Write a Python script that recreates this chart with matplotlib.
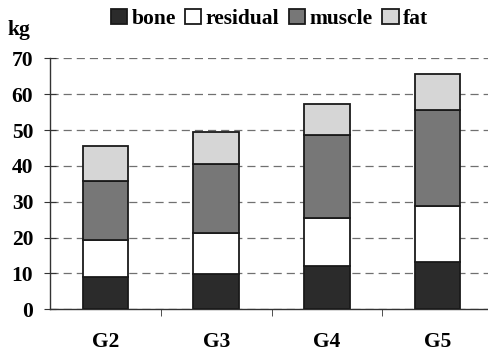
import numpy as np
import matplotlib
matplotlib.use("Agg")
import matplotlib.pyplot as plt

# Body composition per group (kg)
groups = ["G2", "G3", "G4", "G5"]
bone = [8.9, 9.8, 12.2, 13.1]
residual = [10.4, 11.5, 13.2, 15.6]
muscle = [16.6, 19.1, 23.1, 27.0]
fat = [9.6, 9.1, 8.7, 9.9]

components = ["bone", "residual", "muscle", "fat"]
colors = ["#2b2b2b", "#ffffff", "#777777", "#d6d6d6"]

plt.rcParams["font.family"] = "serif"
plt.rcParams["font.serif"] = ["Liberation Serif", "DejaVu Serif"]
plt.rcParams["font.weight"] = "bold"

fig = plt.figure(figsize=(4.88, 3.55), dpi=100)
ax = fig.add_axes([0.1025, 0.1287, 0.908, 0.707])

x = np.arange(len(groups))
bottom = np.zeros(len(groups))
handles = []
for name, vals, c in zip(components, [bone, residual, muscle, fat], colors):
    b = ax.bar(x, vals, width=0.41, bottom=bottom, color=c,
               edgecolor="#1a1a1a", linewidth=1.3, label=name, zorder=3)
    handles.append(b)
    bottom += np.array(vals)

ax.set_xlim(-0.5, len(groups) - 0.5)
ax.set_ylim(0, 70)
ax.set_yticks(np.arange(0, 71, 10))
ax.set_xticks(x)
ax.set_xticklabels(groups, fontsize=15.5, fontweight="bold")
ax.set_xticks(np.arange(0.5, len(groups) - 0.5, 1), minor=True)

ax.tick_params(axis="x", which="major", length=0, pad=16)
ax.tick_params(axis="x", which="minor", length=5, direction="out",
               color="#333333")
ax.tick_params(axis="y", length=8, direction="inout", color="#333333",
               labelsize=15.5, pad=8)
for lbl in ax.get_yticklabels():
    lbl.set_fontweight("bold")

ax.yaxis.grid(True, linestyle=(0, (6.5, 4)), color="#707070",
              linewidth=0.9, zorder=0)
ax.set_axisbelow(True)

for s in ["top", "right"]:
    ax.spines[s].set_visible(False)
for s in ["left", "bottom"]:
    ax.spines[s].set_color("#333333")
    ax.spines[s].set_linewidth(1.0)

fig.text(0.016, 0.915, "kg", fontsize=15.5, fontweight="bold", va="center")
fig.legend(handles=handles, labels=components, loc="center",
           bbox_to_anchor=(0.552, 0.947), ncol=4, frameon=False,
           handlelength=0.75, handleheight=0.75,
           handletextpad=0.2, columnspacing=0.45,
           prop={"family": "serif", "weight": "bold", "size": 15.5})

fig.savefig("out.png", dpi=100)
